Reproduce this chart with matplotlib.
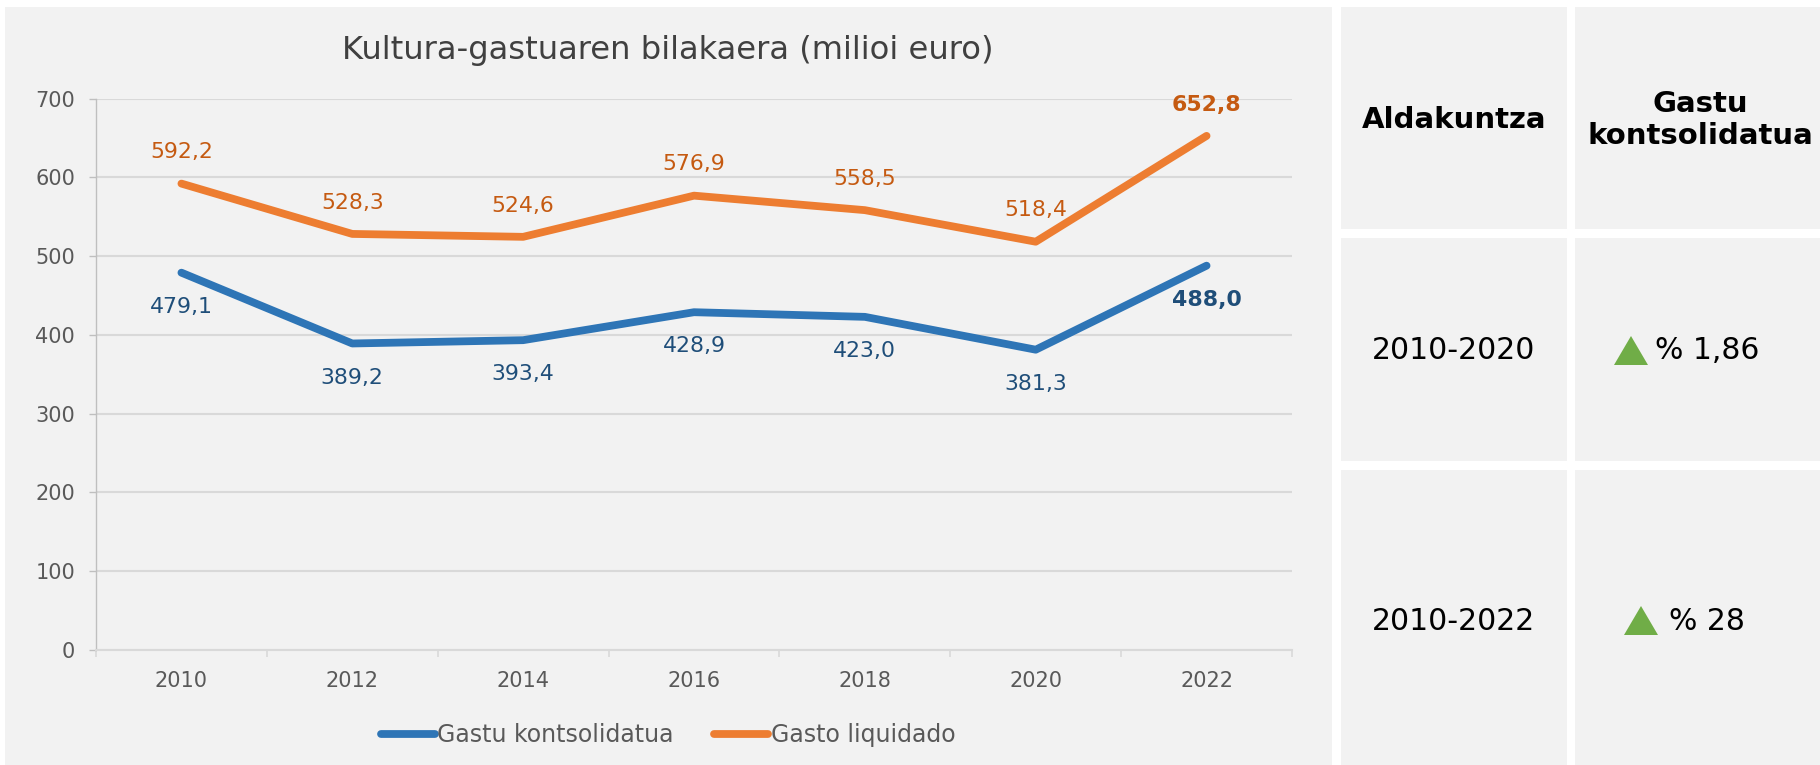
import matplotlib
matplotlib.use('Agg')
import matplotlib.pyplot as plt
from matplotlib.patches import Rectangle, Polygon
from matplotlib.lines import Line2D
from matplotlib.ticker import FixedLocator

# ---------------- data ----------------
years = ['2010', '2012', '2014', '2016', '2018', '2020', '2022']
kontsolidatua = [479.1, 389.2, 393.4, 428.9, 423.0, 381.3, 488.0]
liquidado = [592.2, 528.3, 524.6, 576.9, 558.5, 518.4, 652.8]
series_names = ['Gastu kontsolidatua', 'Gasto liquidado']
chart_title = 'Kultura-gastuaren bilakaera (milioi euro)'
y_ticks = [0, 100, 200, 300, 400, 500, 600, 700]
table_headers = ['Aldakuntza', 'Gastu\nkontsolidatua']
table_periods = ['2010-2020', '2010-2022']
table_changes = ['% 1,86', '% 28']

# ---------------- style ----------------
plt.rcParams['font.family'] = ['DejaVu Sans']
BLUE = '#2e75b6'
ORANGE = '#ed7d31'
BLUE_LBL = '#1f4e79'
ORANGE_LBL = '#c55a11'
PANEL = '#f2f2f2'
GRID = '#d9d9d9'
TXT = '#595959'
GREEN = '#70ad47'

W, H = 1820, 765
fig = plt.figure(figsize=(W / 100, H / 100), dpi=100, facecolor='white')


def fx(x):
    return x / W


def fy(y):
    return 1 - y / H


def rect_px(x0, y0, x1, y1, color):
    fig.patches.append(Rectangle((fx(x0), fy(y1)), fx(x1) - fx(x0), fy(y0) - fy(y1),
                                 transform=fig.transFigure, facecolor=color,
                                 edgecolor='none', zorder=-5))


# background panels
rect_px(5, 7, 1332, 765, PANEL)
rows = [(7, 229), (238, 461), (470, 765)]
cols = [(1341, 1567), (1575, 1820)]
for (r0, r1) in rows:
    for (c0, c1) in cols:
        rect_px(c0, r0, c1, r1, PANEL)

# ---------------- chart ----------------
ax_l, ax_r, ax_t, ax_b = 96, 1292, 98.7, 650
ax = fig.add_axes([fx(ax_l), fy(ax_b), fx(ax_r) - fx(ax_l), fy(ax_t) - fy(ax_b)])
ax.set_facecolor('none')
ax.set_zorder(2)

x = list(range(len(years)))
ax.plot(x, kontsolidatua, color=BLUE, lw=5.6, solid_capstyle='round',
        solid_joinstyle='round', zorder=3)
ax.plot(x, liquidado, color=ORANGE, lw=5.6, solid_capstyle='round',
        solid_joinstyle='round', zorder=3)

ax.set_xlim(-0.5, len(years) - 0.5)
ax.set_ylim(0, 700)
ax.set_yticks(y_ticks)
ax.set_yticklabels([str(v) for v in y_ticks])
ax.set_xticks(x)
ax.set_xticklabels(years)
ax.xaxis.set_minor_locator(FixedLocator([i - 0.5 for i in range(len(years) + 1)]))

ax.grid(axis='y', color=GRID, lw=1.5, zorder=1)
ax.set_axisbelow(True)
for s in ['top', 'right']:
    ax.spines[s].set_visible(False)
ax.spines['left'].set_color('#bfbfbf')
ax.spines['left'].set_linewidth(1.0)
ax.spines['bottom'].set_color(GRID)
ax.spines['bottom'].set_linewidth(1.5)

ax.tick_params(axis='y', which='major', length=5, width=1, color='#bfbfbf',
               labelsize=15, labelcolor=TXT, pad=10)
ax.tick_params(axis='x', which='major', length=0, labelsize=15, labelcolor=TXT, pad=15)
ax.tick_params(axis='x', which='minor', length=5, width=1.2, color=GRID)


def fmt(v):
    return f'{v:.1f}'.replace('.', ',')


last = len(years) - 1
for i, v in enumerate(liquidado):
    ax.annotate(fmt(v), (i, v), xytext=(0, 22.5), textcoords='offset points',
                ha='center', va='center', fontsize=15.8, color=ORANGE_LBL,
                fontweight='bold' if i == last else 'normal', zorder=4)
for i, v in enumerate(kontsolidatua):
    ax.annotate(fmt(v), (i, v), xytext=(0, -24.5), textcoords='offset points',
                ha='center', va='center', fontsize=15.8, color=BLUE_LBL,
                fontweight='bold' if i == last else 'normal', zorder=4)

fig.text(fx(668), fy(51), chart_title, ha='center', va='center', fontsize=23.2,
         color='#404040')

handles = [Line2D([], [], color=BLUE, lw=5.6, solid_capstyle='round'),
           Line2D([], [], color=ORANGE, lw=5.6, solid_capstyle='round')]
fig.legend(handles, series_names, loc='center', bbox_to_anchor=(fx(668), fy(735)),
           ncol=2, frameon=False, handlelength=2.3, handletextpad=0.1,
           columnspacing=1.7, fontsize=17, labelcolor=TXT)

# ---------------- table ----------------
c1x = (cols[0][0] + cols[0][1]) / 2
c2x = (cols[1][0] + cols[1][1]) / 2
fig.text(fx(c1x), fy(120), table_headers[0], ha='center', va='center',
         fontsize=21, fontweight='bold', color='black')
fig.text(fx(c2x + 3), fy(120), table_headers[1], ha='center', va='center',
         fontsize=21, fontweight='bold', color='black', linespacing=1.15,
         multialignment='center')

row_y = [351, 621]
tri_x = [1614, 1624]
txt_x = [1655, 1669]
for k in range(2):
    fig.text(fx(c1x), fy(row_y[k]), table_periods[k], ha='center', va='center',
             fontsize=21.5, color='black')
    tx0 = tri_x[k]
    yc = row_y[k]
    tri = Polygon([(fx(tx0), fy(yc + 14)), (fx(tx0 + 34), fy(yc + 14)),
                   (fx(tx0 + 17), fy(yc - 15))], closed=True,
                  transform=fig.transFigure, facecolor=GREEN, edgecolor='none')
    fig.patches.append(tri)
    fig.text(fx(txt_x[k]), fy(yc), table_changes[k], ha='left', va='center',
             fontsize=21.5, color='black')

fig.savefig('out.png', dpi=100, facecolor='white')
